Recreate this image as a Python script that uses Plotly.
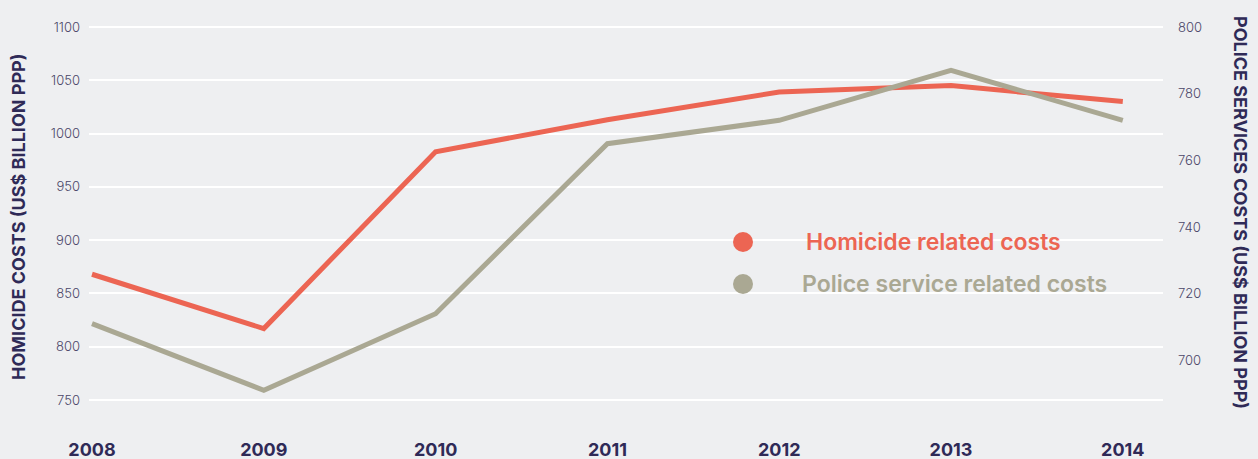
import plotly.graph_objects as go

# Yearly cost series
years = [2008, 2009, 2010, 2011, 2012, 2013, 2014]
homicide_costs = [868, 817, 983, 1013, 1039, 1045, 1030]   # US$ billion PPP, left axis
police_costs = [711, 691, 714, 765, 772, 787, 772]         # US$ billion PPP, right axis

left_ticks = [750, 800, 850, 900, 950, 1000, 1050, 1100]
right_ticks = [700, 720, 740, 760, 780, 800]

RED = "#ec6553"
GREY = "#aaa893"
NAVY = "#2f2a57"
BG = "#eeeff1"

# plot-area geometry (pixels)
W, H = 1258, 459
L, R, T, B = 89, 1163, 20, 410

fig = go.Figure()
fig.add_trace(go.Scatter(x=years, y=homicide_costs, mode="lines",
                         line=dict(color=RED, width=5), yaxis="y",
                         name="Homicide related costs", showlegend=False))
fig.add_trace(go.Scatter(x=years, y=police_costs, mode="lines",
                         line=dict(color=GREY, width=5), yaxis="y2",
                         name="Police service related costs", showlegend=False))

tick_font = dict(family="Inter", size=13, color="#4a4668", weight=300)

fig.update_layout(
    width=W, height=H,
    margin=dict(l=L, r=W - R, t=T, b=H - B, pad=0, autoexpand=False),
    paper_bgcolor=BG, plot_bgcolor=BG,
    xaxis=dict(range=[2008 - 3 / 171.8, 2008 + (R - L - 3) / 171.8],
               tickvals=years, ticktext=[str(y) for y in years],
               showgrid=False, zeroline=False, showline=False, ticks="",
               ticklabelstandoff=27, automargin=False,
               tickfont=dict(family="Inter", size=18, color=NAVY, weight=700)),
    yaxis=dict(range=[750 - (B - 400) * 350 / 373, 1100 + (27 - T) * 350 / 373],
               tickvals=left_ticks, showgrid=True, gridcolor="#ffffff", gridwidth=2,
               zeroline=False, showline=False, ticks="", ticklabelstandoff=8,
               automargin=False, tickfont=tick_font),
    yaxis2=dict(range=[800 - (B - 27) * 0.3, 800 + (27 - T) * 0.3],
                tickvals=right_ticks, overlaying="y", side="right",
                showgrid=False, zeroline=False, showline=False, ticks="",
                ticklabelstandoff=14, automargin=False, tickfont=tick_font),
)

def px_x(x):
    return (x - L) / (R - L)

def px_y(y):
    return (B - y) / (B - T)

# axis titles
fig.add_annotation(text="HOMICIDE COSTS (US$ BILLION PPP)", textangle=-90,
                   xref="paper", yref="paper", x=px_x(18), y=px_y(217),
                   showarrow=False, xanchor="center", yanchor="middle",
                   font=dict(family="Inter", size=18, color=NAVY, weight=700))
fig.add_annotation(text="POLICE SERVICES COSTS (US$ BILLION PPP)", textangle=90,
                   xref="paper", yref="paper", x=px_x(1241), y=px_y(212),
                   showarrow=False, xanchor="center", yanchor="middle",
                   font=dict(family="Inter", size=18, color=NAVY, weight=700))

# legend: coloured dots with labels
legend_items = [("Homicide related costs", RED, 242, 804),
                ("Police service related costs", GREY, 284, 800)]
for label, colour, cy, tx in legend_items:
    fig.add_shape(type="circle", xref="paper", yref="paper",
                  x0=px_x(733), x1=px_x(753), y0=px_y(cy + 10), y1=px_y(cy - 10),
                  fillcolor=colour, line=dict(width=0))
    fig.add_annotation(text=label, xref="paper", yref="paper",
                       x=px_x(tx), y=px_y(cy), showarrow=False,
                       xanchor="left", yanchor="middle",
                       font=dict(family="Inter", size=23, color=colour, weight=600))

fig.write_html("out.html")
